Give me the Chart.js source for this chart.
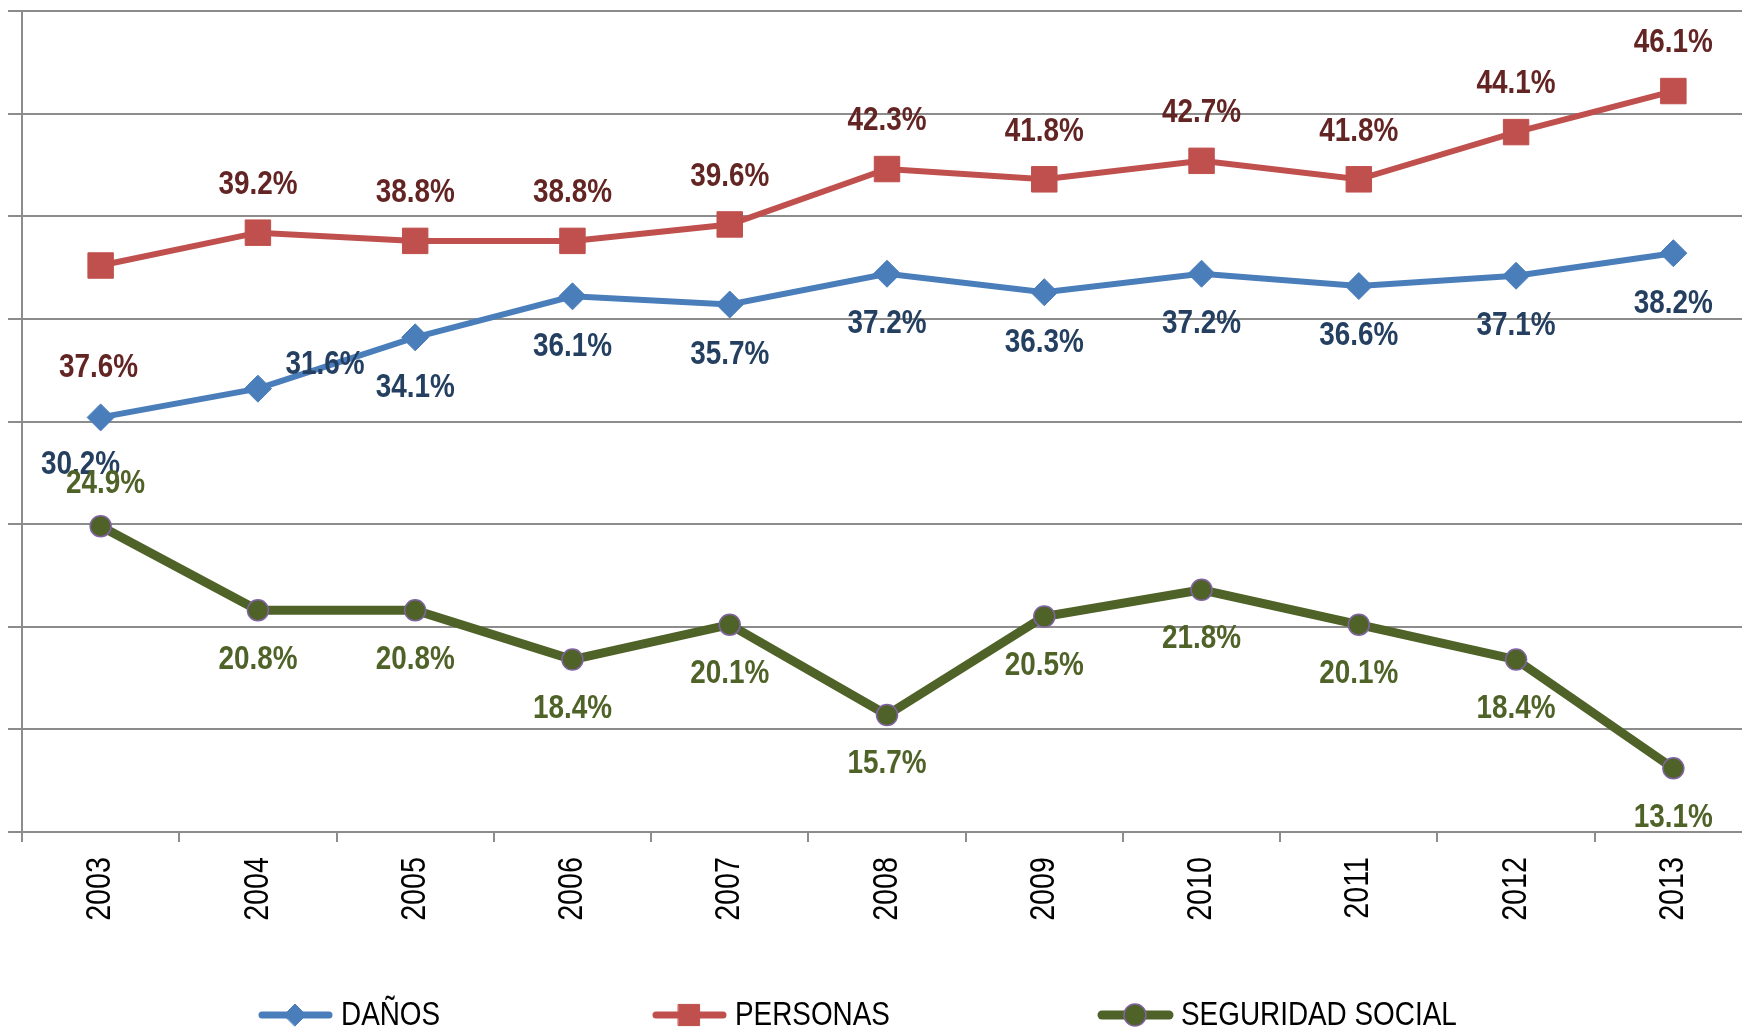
<!DOCTYPE html>
<html>
<head>
<meta charset="utf-8">
<script src="https://cdn.jsdelivr.net/npm/chart.js@4.4.0/dist/chart.umd.min.js"></script>
<style>
  html, body { margin: 0; padding: 0; background: #fff; overflow: hidden; }
  canvas { display: block; }
</style>
</head>
<body>
<canvas id="chart1" width="1752" height="1030"></canvas>
<script>
// data
const years = ["2003", "2004", "2005", "2006", "2007", "2008", "2009", "2010", "2011", "2012", "2013"];
const danos = [30.2, 31.6, 34.1, 36.1, 35.7, 37.2, 36.3, 37.2, 36.6, 37.1, 38.2];
const personas = [37.6, 39.2, 38.8, 38.8, 39.6, 42.3, 41.8, 42.7, 41.8, 44.1, 46.1];
const seguridad = [24.9, 20.8, 20.8, 18.4, 20.1, 15.7, 20.5, 21.8, 20.1, 18.4, 13.1];
const seriesNames = ["DAÑOS", "PERSONAS", "SEGURIDAD SOCIAL"];

// no narrow font installed, so squeeze Liberation Sans sideways
const fontFamily = "'Liberation Sans', Arial, sans-serif";
const squeeze = 0.82;
const gridColor = "#8c8c8c";

function narrowText(ctx, text, x, y, font, align, rot) {
  ctx.save();
  ctx.translate(x, y);
  if (rot) ctx.rotate(rot);
  ctx.scale(squeeze, 1);
  ctx.font = font;
  ctx.textAlign = align;
  ctx.textBaseline = "middle";
  ctx.fillText(text, 0, 0);
  ctx.restore();
}

// where each value label sits relative to its point (px)
const labelShift = [
  { def: [0, 50], 0: [-20, 47], 1: [67, -24] },
  { def: [0, -48], 0: [-2, 102] },
  { def: [0, 49], 0: [5, -43] },
];
const labelColors = ["#243f60", "#632523", "#4f6228"];

const pointLabels = {
  id: "pointLabels",
  afterDatasetsDraw(chart) {
    const ctx = chart.ctx;
    chart.data.datasets.forEach((ds, di) => {
      const meta = chart.getDatasetMeta(di);
      ctx.fillStyle = labelColors[di];
      meta.data.forEach((pt, i) => {
        const s = labelShift[di][i] || labelShift[di].def;
        narrowText(ctx, ds.data[i].toFixed(1) + "%", pt.x + s[0], pt.y + s[1],
          "bold 34px " + fontFamily, "center");
      });
    });
  },
};

// rotated year labels under the x axis
const yearLabels = {
  id: "yearLabels",
  afterDraw(chart) {
    const ctx = chart.ctx;
    const xs = chart.scales.x;
    ctx.fillStyle = "#000";
    chart.data.labels.forEach((lab, i) => {
      narrowText(ctx, lab, xs.getPixelForTick(i), xs.top + 25,
        "35px " + fontFamily, "right", -Math.PI / 2);
    });
  },
};

const legendX = [258, 652, 1098];
const legendY = 1015;

const bottomLegend = {
  id: "bottomLegend",
  afterDraw(chart) {
    const ctx = chart.ctx;
    ctx.save();
    chart.data.datasets.forEach((ds, i) => {
      const x0 = legendX[i];
      ctx.strokeStyle = ds.borderColor;
      ctx.lineWidth = i == 2 ? 9 : 7;
      ctx.lineCap = "round";
      ctx.beginPath();
      ctx.moveTo(x0 + 4, legendY);
      ctx.lineTo(x0 + 71, legendY);
      ctx.stroke();
      ctx.fillStyle = ds.pointBackgroundColor;
      ctx.strokeStyle = ds.pointBorderColor;
      ctx.lineWidth = ds.pointBorderWidth;
      Chart.helpers.drawPoint(ctx, {
        pointStyle: ds.pointStyle,
        radius: i == 1 ? 15 : 11,
        borderWidth: ds.pointBorderWidth,
        rotation: 0,
      }, x0 + 37, legendY);
      ctx.fillStyle = "#000";
      narrowText(ctx, seriesNames[i], x0 + 83, legendY + 1, "34px " + fontFamily, "left");
    });
    ctx.restore();
  },
};

const ctx1 = document.getElementById("chart1").getContext("2d");
const chart1 = new Chart(ctx1, {
  type: "line",
  data: {
    labels: years,
    datasets: [
      {
        label: seriesNames[0],
        data: danos,
        borderColor: "#4a7ebb",
        borderWidth: 6,
        pointStyle: "rectRot",
        pointRadius: 13.5,
        pointBackgroundColor: "#4a7ebb",
        pointBorderColor: "#4a7ebb",
        pointBorderWidth: 1,
      },
      {
        label: seriesNames[1],
        data: personas,
        borderColor: "#c0504d",
        borderWidth: 6,
        pointStyle: "rect",
        pointRadius: 18,
        pointBackgroundColor: "#c0504d",
        pointBorderColor: "#c0504d",
        pointBorderWidth: 1,
      },
      {
        label: seriesNames[2],
        data: seguridad,
        borderColor: "#4f6228",
        borderWidth: 9,
        pointStyle: "circle",
        pointRadius: 10.5,
        pointBackgroundColor: "#4f6228",
        pointBorderColor: "#8064a2",
        pointBorderWidth: 1.5,
      },
    ],
  },
  options: {
    responsive: false,
    animation: false,
    layout: { autoPadding: false, padding: { top: 11, left: 8, right: 0, bottom: 110 } },
    elements: { line: { tension: 0 } },
    plugins: { legend: { display: false }, tooltip: { enabled: false } },
    scales: {
      x: {
        offset: true,
        grid: {
          offset: true,
          drawOnChartArea: false,
          drawTicks: true,
          tickLength: 10,
          color: gridColor,
          lineWidth: 2,
        },
        border: { display: true, color: gridColor, width: 2 },
        ticks: { display: false, autoSkip: false },
        afterFit(scale) {
          scale.height = 88;
        },
      },
      y: {
        min: 10,
        max: 50,
        ticks: { display: false, stepSize: 5 },
        grid: { color: gridColor, lineWidth: 2, drawTicks: true, tickLength: 14 },
        border: { display: true, color: gridColor, width: 2 },
      },
    },
  },
  plugins: [pointLabels, yearLabels, bottomLegend],
});
</script>
</body>
</html>
